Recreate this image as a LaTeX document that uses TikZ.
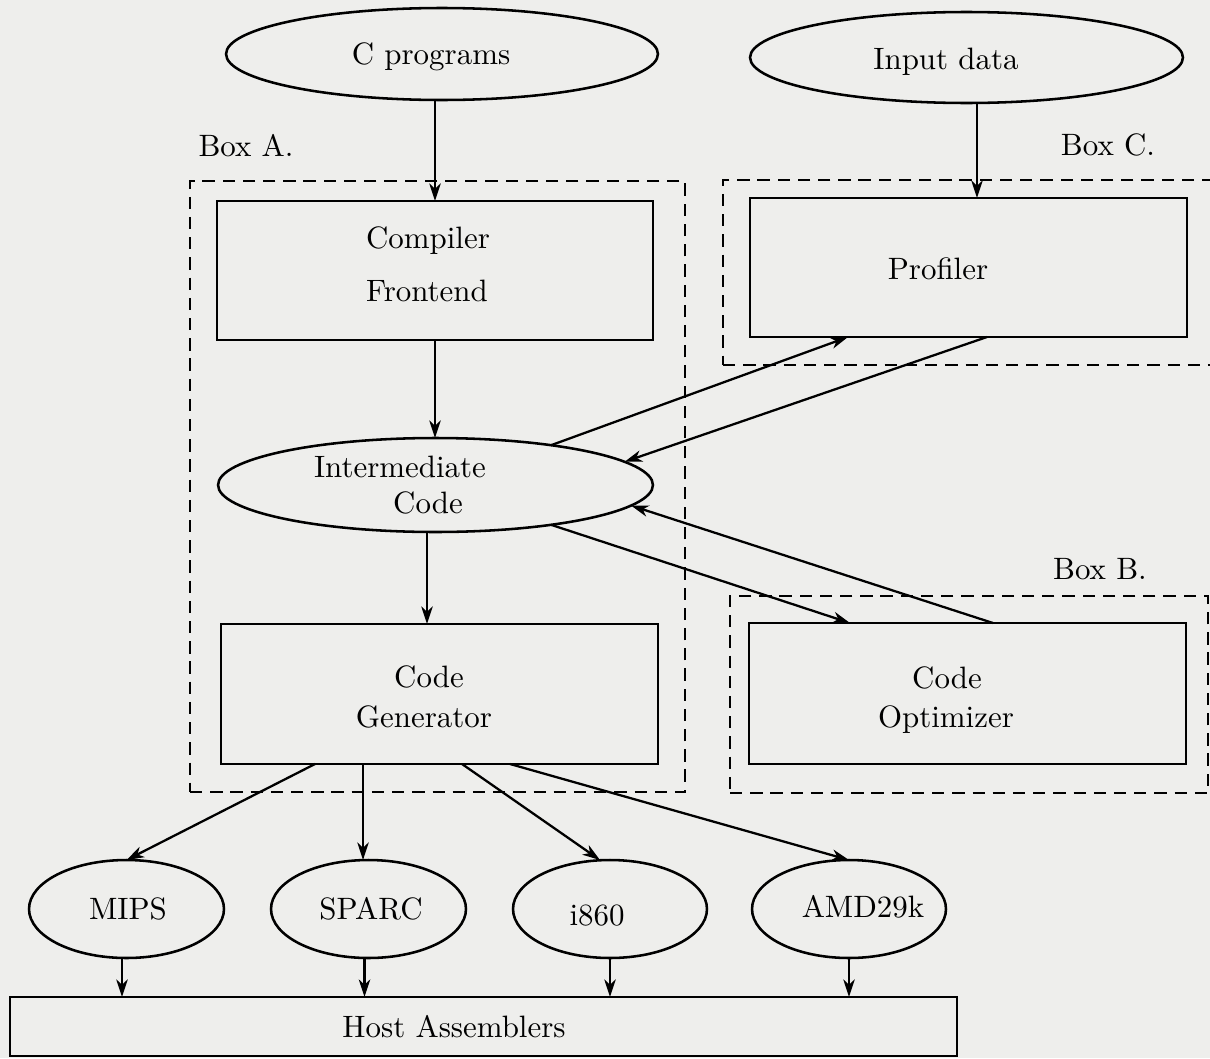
\documentclass[tikz,border=0pt]{standalone}
\usepackage{graphicx}
\usetikzlibrary{shapes.geometric,arrows.meta}
\definecolor{paper}{RGB}{238,238,236}
% labels are set in the 10pt design size and enlarged
\newcommand{\lbltext}[1]{\scalebox{1.76}{#1}}
\begin{document}
\begin{tikzpicture}[x=0.02cm,y=-0.02cm,
  every node/.style={inner sep=0pt, outer sep=0pt},
  shapeline/.style={draw, line width=1.45pt},
  oval/.style={shapeline, ellipse},
  blockbox/.style={shapeline, rectangle},
  groupbox/.style={draw, line width=1.5pt, dash pattern=on 7pt off 4.5pt, rectangle},
  txt/.style={font=\fontsize{10}{12}\selectfont, anchor=base},
  arr/.style={line width=1.3pt, -{Stealth[length=10pt,width=6.5pt,inset=3pt]}},
]
\fill[paper] (0,0) rectangle (1210,1058);
\useasboundingbox (0,0) rectangle (1210,1058);

% dashed grouping boxes
\node[groupbox, minimum width=9.9cm,  minimum height=12.22cm] (boxA) at (437.5,486.5) {};
\node[groupbox, minimum width=10.54cm, minimum height=3.7cm]  (boxC) at (986.5,272.5) {};
\node[groupbox, minimum width=9.56cm, minimum height=3.94cm]  (boxB) at (969,694.5) {};
\node[txt] (boxA-t) at (246,156) {\lbltext{Box A.}};
\node[txt] (boxC-t) at (1108,155) {\lbltext{Box C.}};
\node[txt] (boxB-t) at (1100,579) {\lbltext{Box B.}};

% sources
\node[oval, minimum width=8.64cm, minimum height=1.84cm] (cprog)  at (442,54) {};
\node[oval, minimum width=8.66cm, minimum height=1.82cm] (indata) at (966.5,57.5) {};
\node[txt] (cprog-t)  at (431,64) {\lbltext{C programs}};
\node[txt] (indata-t) at (946,69) {\lbltext{Input data}};

% compiler stages
\node[blockbox, minimum width=8.72cm, minimum height=2.78cm] (frontend) at (435,270.5) {};
\node[txt] (frontend-t1) at (428,248) {\lbltext{Compiler}};
\node[txt] (frontend-t2) at (427,301) {\lbltext{Frontend}};

\node[blockbox, minimum width=8.74cm, minimum height=2.78cm] (profiler) at (968.5,267.5) {};
\node[txt] (profiler-t) at (938,279) {\lbltext{Profiler}};

\node[oval, minimum width=8.7cm, minimum height=1.88cm] (ic) at (435.5,485) {};
\node[txt] (ic-t1) at (400,477) {\lbltext{Intermediate}};
\node[txt] (ic-t2) at (428,513) {\lbltext{Code}};

\node[blockbox, minimum width=8.74cm, minimum height=2.8cm] (codegen) at (439.5,694) {};
\node[txt] (codegen-t1) at (429,687) {\lbltext{Code}};
\node[txt] (codegen-t2) at (424,727) {\lbltext{Generator}};

\node[blockbox, minimum width=8.74cm, minimum height=2.82cm] (codeopt) at (967.5,693.5) {};
\node[txt] (codeopt-t1) at (947,688) {\lbltext{Code}};
\node[txt] (codeopt-t2) at (946,727) {\lbltext{Optimizer}};

% target machines
\node[oval, minimum width=3.9cm,  minimum height=1.96cm] (mips)  at (126.5,909) {};
\node[oval, minimum width=3.9cm,  minimum height=1.96cm] (sparc) at (368.5,909) {};
\node[oval, minimum width=3.88cm, minimum height=1.96cm] (i860)  at (610,909) {};
\node[oval, minimum width=3.88cm, minimum height=1.96cm] (amd)   at (849,909) {};
\node[txt] (mips-t)  at (128,919) {\lbltext{MIPS}};
\node[txt] (sparc-t) at (371,919) {\lbltext{SPARC}};
\node[txt] (i860-t)  at (597,925) {\lbltext{i860}};
\node[txt] (amd-t)   at (863,917) {\lbltext{AMD29k}};

\node[blockbox, minimum width=18.94cm, minimum height=1.18cm] (host) at (483.5,1026.5) {};
\node[txt] (host-t) at (454,1037) {\lbltext{Host Assemblers}};

% connectors
\coordinate (pin) at ([xshift=0.17cm]profiler.north);
\coordinate (cgin) at ([xshift=-0.25cm]codegen.north);
\coordinate (spout) at ([xshift=-1.53cm]codegen.south);

\draw[arr] (frontend.north |- cprog.south) -- (frontend.north);
\draw[arr] (pin |- indata.south) -- (pin);
\draw[arr] (frontend.south) -- (frontend.south |- ic.north);
\draw[arr] (cgin |- ic.south) -- (cgin);

\draw[arr] (ic.19) -- ([xshift=-2.41cm]profiler.south);
\draw[arr] ([xshift=0.37cm]profiler.south) -- (ic.7);
\draw[arr] (ic.-19) -- ([xshift=-2.35cm]codeopt.north);
\draw[arr] ([xshift=0.51cm]codeopt.north) -- (ic.-6);

\draw[arr] ([xshift=-2.49cm]codegen.south) -- (mips.north);
\draw[arr] (spout) -- (spout |- sparc.north);
\draw[arr] ([xshift=0.45cm]codegen.south) -- ([xshift=-0.2cm]i860.north);
\draw[arr] ([xshift=1.41cm]codegen.south) -- (amd.north);

\draw[arr] ([xshift=-0.09cm]mips.south)  -- ([xshift=-0.09cm]mips.south |- host.north);
\draw[arr] ([xshift=-0.08cm]sparc.south) -- ([xshift=-0.08cm]sparc.south |- host.north);
\draw[arr] (i860.south) -- (i860.south |- host.north);
\draw[arr] (amd.south)  -- (amd.south |- host.north);
\end{tikzpicture}
\end{document}
